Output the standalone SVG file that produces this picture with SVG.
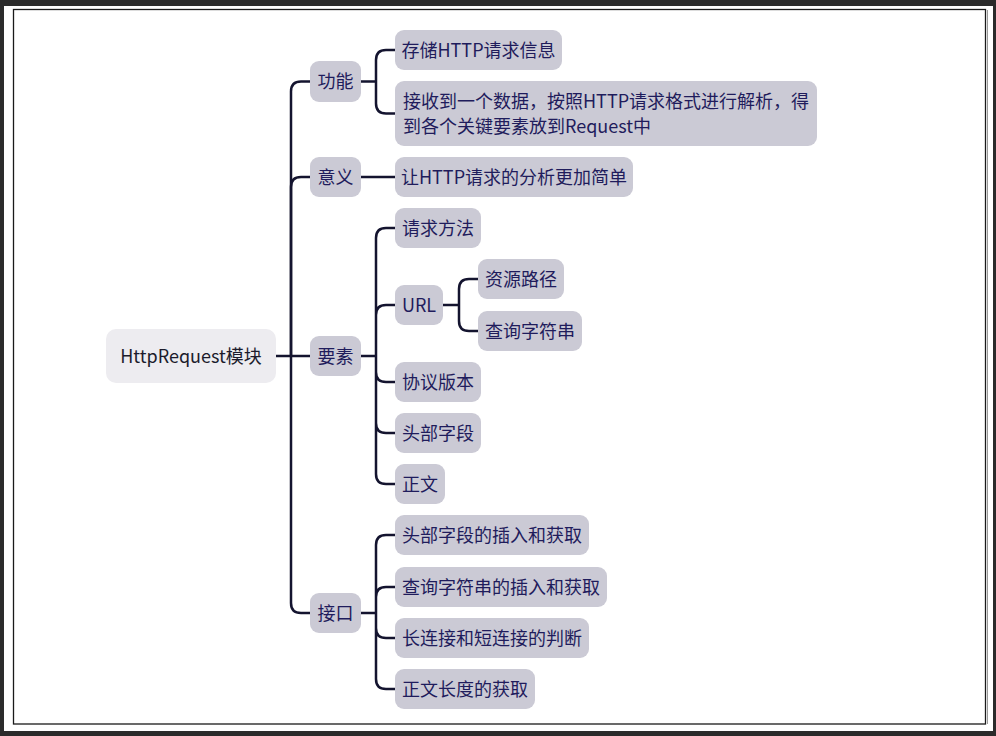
<svg xmlns="http://www.w3.org/2000/svg" width="996" height="736" viewBox="0 0 996 736">
<style>
.n{fill:#cbcad5}
.r{fill:#edecf0}
.t{font-family:"Noto Sans CJK SC","Noto Sans",sans-serif;font-size:18px;fill:#1f1c5c;text-anchor:middle}
.rt{fill:#1c1b2c}
.s{text-anchor:start}
.c{fill:none;stroke:#14142f;stroke-width:2.5;stroke-linecap:round}
</style>
<rect x="0" y="0" width="996" height="736" fill="#2b2b2b"/>
<rect x="4" y="6" width="989" height="725" fill="#ffffff"/>
<rect x="13.5" y="9.5" width="972" height="714.5" fill="none" stroke="#1a1a1a" stroke-width="1.3"/>
<line x1="987.5" y1="10" x2="987.5" y2="724" stroke="#9a9a9a" stroke-width="1"/>
<g id="connectors" class="c">
<path d="M276,356 H310"/>
<path d="M291,356 V91.5 Q291,81.5 301,81.5 H310"/>
<path d="M291,356 V187 Q291,177 301,177 H310"/>
<path d="M291,356 V603 Q291,613 301,613 H310"/>
<path d="M361,81.5 H376 M376,81.5 V60 Q376,50 386,50 H395 M376,81.5 V103.5 Q376,113.5 386,113.5 H395"/>
<path d="M361,177 H395"/>
<path d="M361,356 H376 M376,356 V238 Q376,228 386,228 H395 M376,356 V315 Q376,305 386,305 H395 M376,356 V372 Q376,382 386,382 H395 M376,356 V423 Q376,433 386,433 H395 M376,356 V474 Q376,484 386,484 H395"/>
<path d="M443,305 H459 M459,305 V289 Q459,279 469,279 H478 M459,305 V321 Q459,331 469,331 H478"/>
<path d="M361,613 H376 M376,613 V545 Q376,535 386,535 H395 M376,613 V597 Q376,587 386,587 H395 M376,613 V628 Q376,638 386,638 H395 M376,613 V679 Q376,689 386,689 H395"/>
</g>
<g id="root"><rect class="r" x="106" y="329" width="170" height="54" rx="10"/><text class="t rt" x="191" y="362.5">HttpRequest模块</text></g>
<g id="gongneng"><rect class="n" x="310" y="61" width="51" height="41" rx="9"/><text class="t" x="335.5" y="88">功能</text></g>
<g id="yiyi"><rect class="n" x="310" y="157" width="51" height="40" rx="9"/><text class="t" x="335.5" y="183.5">意义</text></g>
<g id="yaosu"><rect class="n" x="310" y="336" width="51" height="40" rx="9"/><text class="t" x="335.5" y="362.5">要素</text></g>
<g id="jiekou"><rect class="n" x="310" y="593" width="51" height="40" rx="9"/><text class="t" x="335.5" y="619.5">接口</text></g>
<g id="cunchu"><rect class="n" x="395" y="30" width="167" height="40" rx="9"/><text class="t" x="478.5" y="56.5">存储HTTP请求信息</text></g>
<g id="jieshou"><rect class="n" x="395" y="81" width="422" height="65" rx="9"/><text class="t s" x="403" y="108">接收到一个数据，按照HTTP请求格式进行解析，得</text><text class="t s" x="403" y="133">到各个关键要素放到Request中</text></g>
<g id="rang"><rect class="n" x="395" y="157" width="238" height="40" rx="9"/><text class="t" x="514" y="183.5">让HTTP请求的分析更加简单</text></g>
<g id="fangfa"><rect class="n" x="395" y="208" width="86" height="40" rx="9"/><text class="t" x="438" y="234.5">请求方法</text></g>
<g id="url"><rect class="n" x="395" y="285" width="48" height="40" rx="9"/><text class="t" x="419" y="311.5">URL</text></g>
<g id="lujing"><rect class="n" x="478" y="259" width="86" height="40" rx="9"/><text class="t" x="521" y="285.5">资源路径</text></g>
<g id="chaxun"><rect class="n" x="478" y="311" width="104" height="40" rx="9"/><text class="t" x="530" y="337.5">查询字符串</text></g>
<g id="xieyi"><rect class="n" x="395" y="362" width="86" height="40" rx="9"/><text class="t" x="438" y="388.5">协议版本</text></g>
<g id="toubu"><rect class="n" x="395" y="413" width="86" height="40" rx="9"/><text class="t" x="438" y="439.5">头部字段</text></g>
<g id="zhengwen"><rect class="n" x="395" y="464" width="50" height="40" rx="9"/><text class="t" x="420" y="490.5">正文</text></g>
<g id="if1"><rect class="n" x="395" y="515" width="194" height="40" rx="9"/><text class="t" x="492" y="541.5">头部字段的插入和获取</text></g>
<g id="if2"><rect class="n" x="395" y="567" width="212" height="40" rx="9"/><text class="t" x="501" y="593.5">查询字符串的插入和获取</text></g>
<g id="if3"><rect class="n" x="395" y="618" width="194" height="40" rx="9"/><text class="t" x="492" y="644.5">长连接和短连接的判断</text></g>
<g id="if4"><rect class="n" x="395" y="669" width="140" height="40" rx="9"/><text class="t" x="465" y="695.5">正文长度的获取</text></g>
</svg>
